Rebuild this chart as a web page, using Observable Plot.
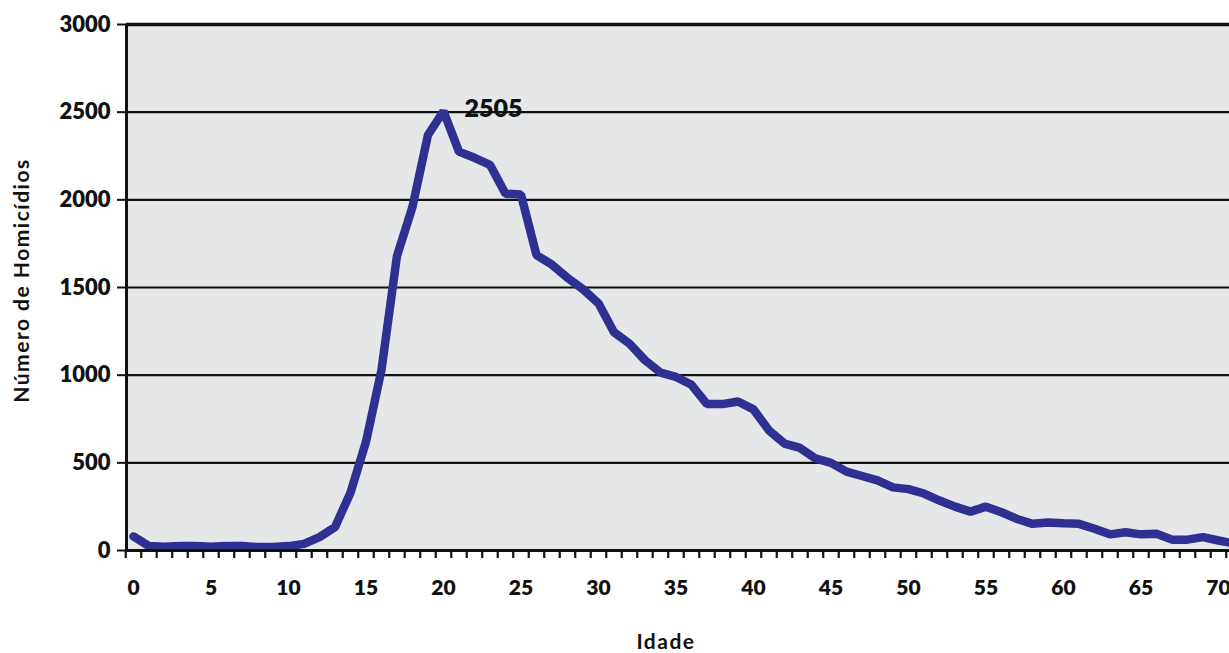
<!DOCTYPE html>
<html>
<head>
<meta charset="utf-8">
<script src="https://cdn.jsdelivr.net/npm/d3@7"></script>
<script src="https://cdn.jsdelivr.net/npm/@observablehq/plot@0.6"></script>
<style>
  html, body { margin: 0; padding: 0; background: #ffffff; overflow: hidden; }
  #chart { width: 1229px; height: 653px; }
</style>
</head>
<body>
<div id="chart"></div>
<script>
const ages = [0,1,2,3,4,5,6,7,8,9,10,11,12,13,14,15,16,17,18,19,20,21,22,23,24,25,26,27,28,29,30,31,32,33,34,35,36,37,38,39,40,41,42,43,44,45,46,47,48,49,50,51,52,53,54,55,56,57,58,59,60,61,62,63,64,65,66,67,68,69,70,71];
const homicides = [80,25,22,25,25,22,25,25,20,20,25,38,76,133,330,620,1030,1680,1960,2370,2505,2275,2240,2200,2035,2030,1685,1630,1555,1490,1410,1245,1180,1085,1015,990,945,835,835,850,805,685,610,585,525,500,450,425,400,360,350,325,285,250,222,250,218,180,152,160,155,152,124,92,104,92,95,62,62,76,57,40];
const xTickLabels = [0,5,10,15,20,25,30,35,40,45,50,55,60,65,70];
const xTickMarks = [-0.5,0.5,1.5,2.5,3.5,4.5,5.5,6.5,7.5,8.5,9.5,10.5,11.5,12.5,13.5,14.5,15.5,16.5,17.5,18.5,19.5,20.5,21.5,22.5,23.5,24.5,25.5,26.5,27.5,28.5,29.5,30.5,31.5,32.5,33.5,34.5,35.5,36.5,37.5,38.5,39.5,40.5,41.5,42.5,43.5,44.5,45.5,46.5,47.5,48.5,49.5,50.5,51.5,52.5,53.5,54.5,55.5,56.5,57.5,58.5,59.5,60.5,61.5,62.5,63.5,64.5,65.5,66.5,67.5,68.5,69.5,70.5];
const yTicks = [0,500,1000,1500,2000,2500,3000];
const peakLabel = [{age: 20, value: 2505, label: "2505"}];
const yTitle = "Número de Homicídios";
const xTitle = "Idade";
const xDomain = [-0.45, 70.71];
const yDomain = [0, 3000];

const data = ages.map((a, i) => ({age: a, value: homicides[i]}));
const font = "Lato, 'Open Sans', sans-serif";

const chart = Plot.plot({
  width: 1229,
  height: 653,
  marginLeft: 126,
  marginRight: 0,
  marginTop: 24,
  marginBottom: 103,
  style: {fontFamily: font, fontSize: "22px", fontWeight: "bold", color: "#111", background: "#ffffff", overflow: "hidden"},
  x: {domain: xDomain},
  y: {domain: yDomain},
  marks: [
    Plot.frame({fill: "#e6e7e9", stroke: null}),
    Plot.ruleY(yTicks.filter(d => d > 0 && d < 3000), {stroke: "#111", strokeWidth: 2.2}),
    Plot.ruleY([3000], {stroke: "#111", strokeWidth: 3.5}),
    Plot.axisY({ticks: yTicks, tickSize: 9, tickPadding: 7, tickFormat: d => String(d), label: null, fontSize: 22, fontWeight: "800", strokeWidth: 2}),
    Plot.axisX({ticks: xTickMarks, tickSize: 8, tickFormat: () => "", label: null, strokeWidth: 2.2}),
    Plot.axisX({ticks: xTickLabels, tickSize: 0, tickPadding: 30, tickFormat: d => String(d), label: null, fontSize: 21, fontWeight: "800"}),
    Plot.lineY(data, {x: "age", y: "value", stroke: "#2e3192", strokeWidth: 8.5, strokeLinejoin: "miter", clip: "frame"}),
    Plot.ruleY([0], {stroke: "#111", strokeWidth: 3}),
    Plot.ruleX([xDomain[0]], {stroke: "#111", strokeWidth: 3}),
    Plot.text(peakLabel, {x: "age", y: "value", text: "label", dx: 21, dy: -2, textAnchor: "start", fontSize: 25, fontWeight: "800", fill: "#111"}),
    Plot.text([yTitle], {frameAnchor: "left", text: d => d, rotate: -90, textAnchor: "middle", dx: -104, dy: -7, fontSize: 21, fontWeight: "bold", fill: "#111"}),
    Plot.text([xTitle], {frameAnchor: "bottom", text: d => d, textAnchor: "middle", dx: -12, dy: 98, fontSize: 21, fontWeight: "bold", fill: "#111"})
  ]
});
d3.select(chart).selectAll("text")
  .filter(function() { return this.textContent === yTitle || this.textContent === xTitle; })
  .style("letter-spacing", "1.5px");
document.getElementById("chart").appendChild(chart);
</script>
</body>
</html>
